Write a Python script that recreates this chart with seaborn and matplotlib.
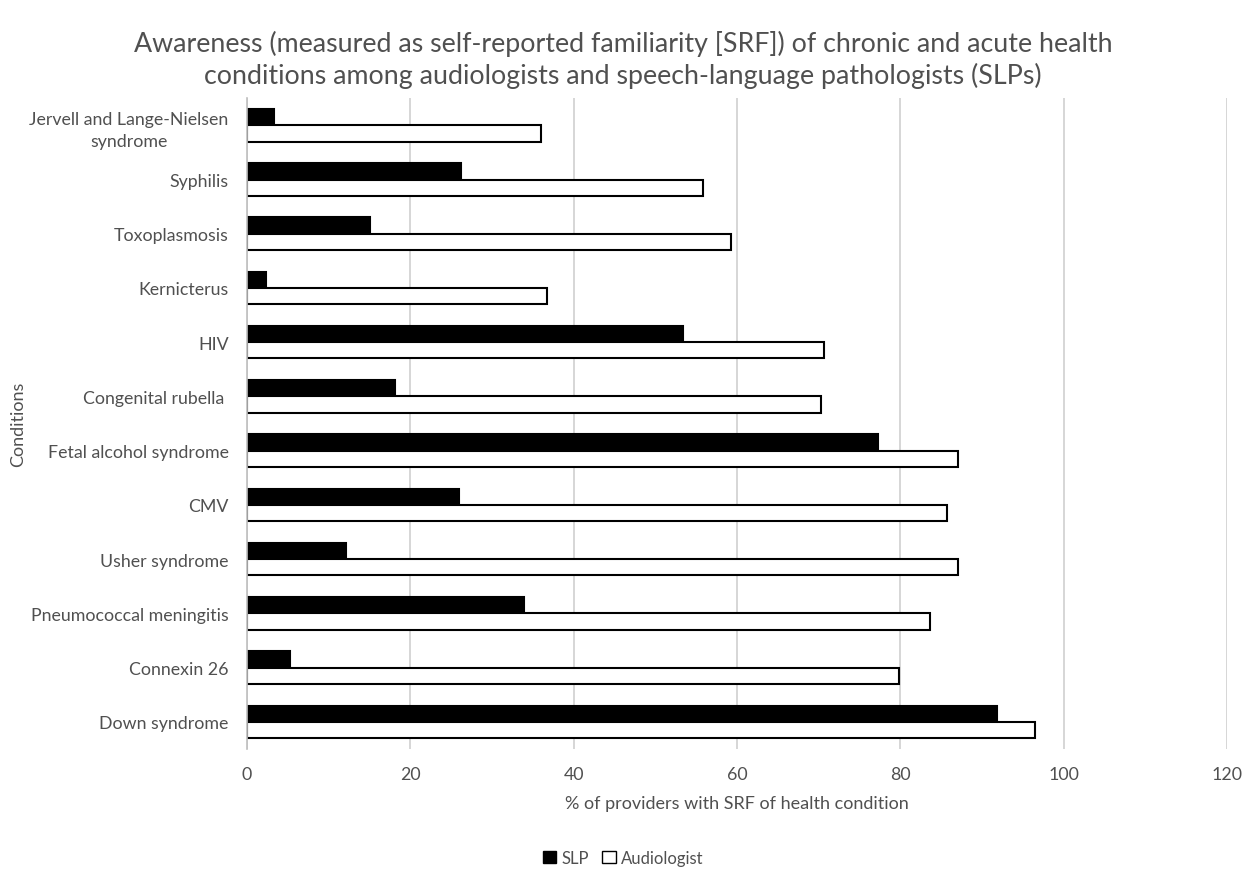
import numpy as np
import pandas as pd
import matplotlib
matplotlib.use("Agg")
import matplotlib.pyplot as plt
import seaborn as sns
from matplotlib.patches import Patch

# Conditions, top to bottom as in the chart
conditions = [
    "Jervell and Lange-Nielsen\nsyndrome",
    "Syphilis",
    "Toxoplasmosis",
    "Kernicterus",
    "HIV",
    "Congenital rubella ",
    "Fetal alcohol syndrome",
    "CMV",
    "Usher syndrome",
    "Pneumococcal meningitis",
    "Connexin 26",
    "Down syndrome",
]
slp = [3.3, 26.2, 15.1, 2.3, 53.4, 18.1, 77.3, 26.0, 12.2, 33.9, 5.3, 91.8]
audiologist = [36.0, 55.8, 59.3, 36.8, 70.6, 70.3, 87.0, 85.7, 87.1, 83.6, 79.8, 96.5]
groups = ["SLP", "Audiologist"]
x_ticks = [0, 20, 40, 60, 80, 100, 120]

df = pd.DataFrame({
    "condition": conditions * 2,
    "group": ["SLP"] * len(conditions) + ["Audiologist"] * len(conditions),
    "value": slp + audiologist,
})

sns.set_theme(style="white")
plt.rcParams["font.family"] = ["Lato", "DejaVu Sans"]
text_col = "#505050"

fig = plt.figure(figsize=(12.46, 8.70), dpi=100)
ax = fig.add_axes([0.198, 0.138, 0.787, 0.748])

sns.barplot(ax=ax, data=df, x="value", y="condition", hue="group",
            order=conditions, hue_order=groups, orient="h",
            palette={"SLP": "black", "Audiologist": "white"},
            edgecolor="black", linewidth=1.5, width=0.6, saturation=1,
            legend=False)

ax.set_xlim(0, 120)
ax.set_xticks(x_ticks)
ax.set_ylim(len(conditions) - 0.5, -0.5)
ax.grid(axis="x", color="#d0d0d0", linewidth=1.2)
ax.set_axisbelow(True)
for s in ["top", "right", "bottom"]:
    ax.spines[s].set_visible(False)
ax.spines["left"].set_color("#bfbfbf")
ax.spines["left"].set_linewidth(1.2)
ax.tick_params(axis="both", length=0, labelsize=12.8, colors=text_col)
ax.tick_params(axis="x", pad=12)
ax.tick_params(axis="y", pad=13)
for lab in ax.get_yticklabels():
    lab.set_horizontalalignment("right")
    lab.set_multialignment("center")
    lab.set_linespacing(1.45)

ax.set_xlabel("% of providers with SRF of health condition", fontsize=13,
              color=text_col, labelpad=10)
ax.set_ylabel("Conditions", fontsize=13, color=text_col, labelpad=2)
fig.text(0.5, 0.931,
         "Awareness (measured as self-reported familiarity [SRF]) of chronic and acute health\n"
         "conditions among audiologists and speech-language pathologists (SLPs)",
         ha="center", va="center", fontsize=19.3, color=text_col, linespacing=1.25)

handles = [Patch(facecolor="black", edgecolor="black", label="SLP"),
           Patch(facecolor="white", edgecolor="black", label="Audiologist")]
leg = fig.legend(handles=handles, loc="center", bbox_to_anchor=(0.5, 0.013),
                 ncol=2, frameon=False, fontsize=12, handlelength=0.8,
                 handleheight=0.8, handletextpad=0.3, columnspacing=0.8)
for t in leg.get_texts():
    t.set_color(text_col)

fig.savefig("out.png", dpi=100)
